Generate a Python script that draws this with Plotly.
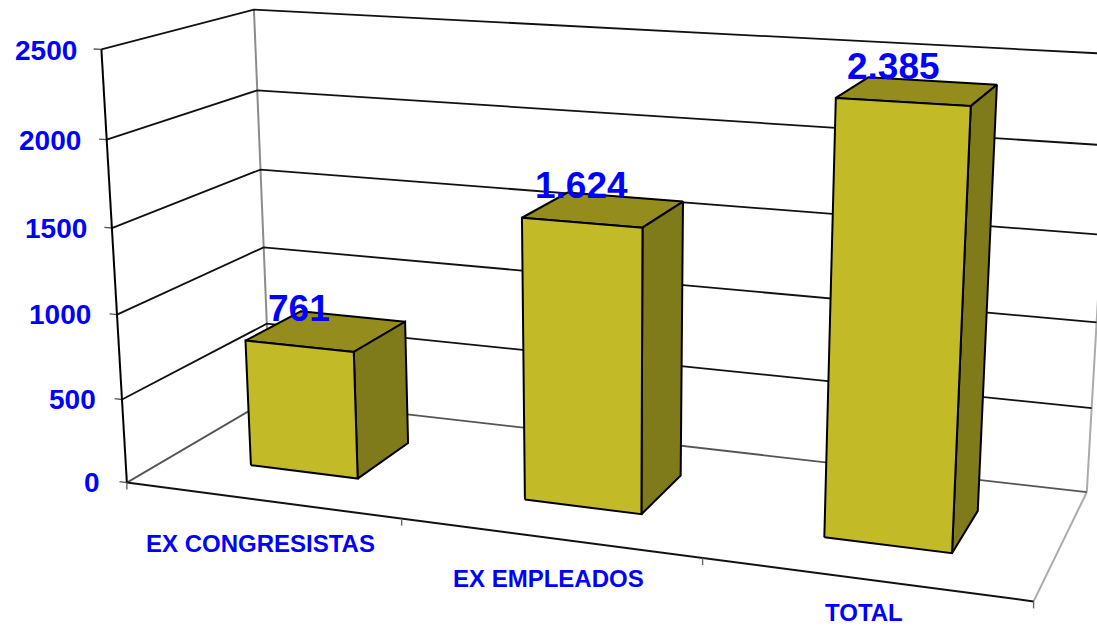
import numpy as np
import plotly.graph_objects as go

categories = ["EX CONGRESISTAS", "EX EMPLEADOS", "TOTAL"]
values = [761, 1624, 2385]
value_labels = ["761", "1.624", "2.385"]
y_ticks = [0, 500, 1000, 1500, 2000, 2500]
Y_MAX = 2500
N = len(categories)
W0, W1 = 0.3, 0.7      # bar span inside a category (gap width 150)
D0, D1 = 0.3, 0.7      # bar span in chart depth

FRONT, TOP, SIDE = "#C2BB27", "#948D1E", "#7F7A1A"
BLUE = "#0000FF"
FONT = "Liberation Sans, Arial, sans-serif"

# Perspective camera calibration: (category position, depth, value) -> page pixel
CAL = [
    (0, 0, 0, 127, 482), (0, 0, 500, 122, 399), (0, 0, 1000, 117, 314),
    (0, 0, 1500, 112.5, 228), (0, 0, 2000, 107, 139), (0, 0, 2500, 101.5, 49.5),
    (0, 1, 2500, 254.5, 9.5), (0, 1, 2000, 257, 90), (0, 1, 1500, 261, 170),
    (0, 1, 1000, 264, 247), (0, 1, 500, 267, 323),
    (1, 0, 0, 401, 520), (2, 0, 0, 701.7, 559), (3, 0, 0, 1032, 600),
    (3, 1, 0, 1086, 491.7), (3, 1, 500, 1092, 408), (3, 1, 1000, 1096, 322.7),
    (.3, .3, 761, 245.7, 341), (.7, .3, 761, 354, 352), (.7, .3, 0, 357.7, 479),
    (.3, .3, 0, 250, 465.7), (.7, .7, 761, 405.7, 322), (.7, .7, 0, 408.7, 443.3),
    (.3, .7, 761, 300, 312),
    (1.3, .3, 1624, 522.3, 217.3), (1.7, .3, 1624, 642.7, 227.7), (1.7, .3, 0, 642, 514),
    (1.3, .3, 0, 524.7, 500), (1.7, .7, 1624, 683.3, 201.7), (1.7, .7, 0, 682, 475.7),
    (1.3, .7, 1624, 561.7, 192.7),
    (2.3, .3, 2385, 836.7, 98), (2.7, .3, 2385, 971.7, 106.7), (2.7, .3, 0, 953, 552.7),
    (2.3, .3, 0, 824.7, 537), (2.7, .7, 2385, 997.7, 85), (2.7, .7, 0, 979.3, 510.7),
    (2.3, .7, 2385, 867.7, 77.3),
]


def fit_camera(cal):
    rows = []
    for x, d, z, u, v in cal:
        p = [x / 3, d, z / Y_MAX, 1]
        u, v = u / 1000, v / 1000
        rows.append(p + [0, 0, 0, 0] + [-u * c for c in p])
        rows.append([0, 0, 0, 0] + p + [-v * c for c in p])
    return np.linalg.svd(np.array(rows))[2][-1].reshape(3, 4)


P = fit_camera(CAL)


def project(x, d, z):
    h = P @ np.array([x / 3, d, z / Y_MAX, 1.0])
    return float(h[0] / h[2] * 1000), float(h[1] / h[2] * 1000)


fig = go.Figure()


def path(pts, color, width=2.0):
    xy = [project(*p) for p in pts]
    fig.add_trace(go.Scatter(x=[a for a, _ in xy], y=[b for _, b in xy], mode="lines",
                             line=dict(color=color, width=width), hoverinfo="skip",
                             showlegend=False))


def face(pts, fill):
    xy = [project(*p) for p in pts + pts[:1]]
    fig.add_trace(go.Scatter(x=[a for a, _ in xy], y=[b for _, b in xy], mode="lines",
                             fill="toself", fillcolor=fill,
                             line=dict(color="#000000", width=2.0), hoverinfo="skip",
                             showlegend=False))


# walls and gridlines
path([(0, 1, 0), (0, 1, Y_MAX)], "#8C8C8C", 2.0)
path([(N, 1, 0), (N, 1, Y_MAX)], "#ABABAB", 2.0)
path([(N, 0, 0), (N, 1, 0)], "#ABABAB", 2.0)
for t in y_ticks:
    color = "#555555" if t == 0 else "#111111"
    path([(0, 0, t), (0, 1, t), (N, 1, t)], color, 1.8)
    path([(-0.028, 0, t), (0, 0, t)], "#555555", 1.4)
path([(0, 0, 0), (0, 0, Y_MAX)], "#000000", 2.0)
path([(0, 0, 0), (N, 0, 0)], "#111111", 2.0)

# category ticks
for i in range(N + 1):
    x, y = project(i, 0, 0)
    fig.add_trace(go.Scatter(x=[x, x], y=[y, y + 7], mode="lines",
                             line=dict(color="#666666", width=1.4),
                             hoverinfo="skip", showlegend=False))

# bars
for i, v in enumerate(values):
    a, b = i + W0, i + W1
    face([(a, D0, v), (a, D1, v), (b, D1, v), (b, D0, v)], TOP)
    face([(b, D0, 0), (b, D1, 0), (b, D1, v), (b, D0, v)], SIDE)
    face([(a, D0, 0), (b, D0, 0), (b, D0, v), (a, D0, v)], FRONT)

annotations = []
tick_anchor = [(100.5, 482), (96.5, 399), (91.5, 314.5), (87.5, 228.5), (82, 140), (77.5, 50.5)]
for t, (ax, ay) in zip(y_ticks, tick_anchor):
    annotations.append(dict(x=ax, y=ay, text=f"<b>{t}</b>", xanchor="right",
                            font=dict(size=28)))
cat_anchor = [(260.5, 543), (548, 578), (863.5, 612)]
for c, (ax, ay) in zip(categories, cat_anchor):
    annotations.append(dict(x=ax, y=ay, text=f"<b>{c}</b>", xanchor="center",
                            font=dict(size=24)))
val_anchor = [(299, 308), (581.5, 185), (893, 66)]
for c, (ax, ay) in zip(value_labels, val_anchor):
    annotations.append(dict(x=ax, y=ay, text=f"<b>{c}</b>", xanchor="center",
                            font=dict(size=37)))
for an in annotations:
    an.update(xref="x", yref="y", yanchor="middle", showarrow=False, borderpad=0)
    an["font"].update(family=FONT, color=BLUE)

fig.update_layout(
    width=1097, height=626, margin=dict(l=0, r=0, t=0, b=0),
    paper_bgcolor="#FFFFFF", plot_bgcolor="#FFFFFF", showlegend=False,
    xaxis=dict(range=[0, 1097], visible=False, fixedrange=True),
    yaxis=dict(range=[626, 0], visible=False, fixedrange=True),
    annotations=annotations,
)
fig.write_html("out.html", config={"displayModeBar": False},
               post_script="document.body.style.margin='0';document.documentElement.style.overflow='hidden';")
